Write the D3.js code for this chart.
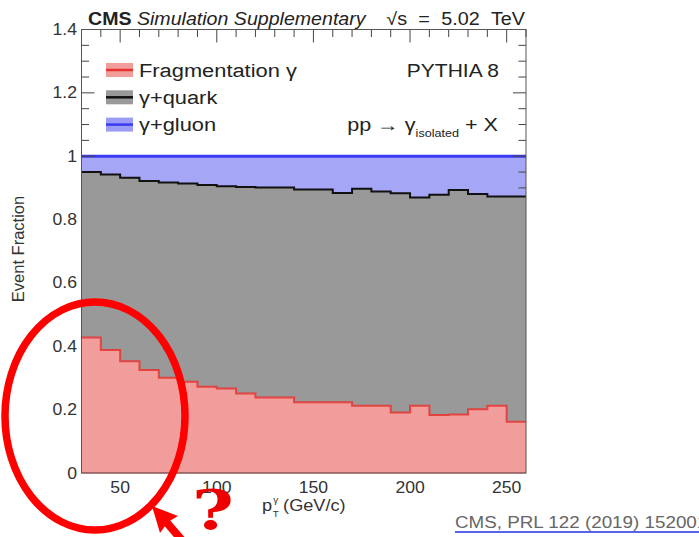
<!DOCTYPE html>
<html>
<head>
<meta charset="utf-8">
<script src="https://cdn.jsdelivr.net/npm/d3@7"></script>
<style>
  html, body { margin: 0; padding: 0; background: #fff; }
  svg { display: block; }
</style>
</head>
<body>
<svg id="chart" width="699" height="537"></svg>
<script>
// pT bin edges (GeV/c)
const binEdges = [30, 40, 50, 60, 70, 80, 90, 100, 110, 120, 130, 140, 150, 160, 170, 180, 190, 200, 210, 220, 230, 240, 250, 260];
// Event fractions per bin
const fragmentation = [0.428, 0.388, 0.353, 0.325, 0.301, 0.288, 0.272, 0.267, 0.251, 0.238, 0.238, 0.223, 0.223, 0.223, 0.212, 0.212, 0.191, 0.212, 0.183, 0.185, 0.201, 0.212, 0.162];
const quark = [0.522, 0.554, 0.579, 0.597, 0.616, 0.626, 0.637, 0.638, 0.652, 0.663, 0.663, 0.672, 0.672, 0.661, 0.685, 0.677, 0.692, 0.658, 0.695, 0.708, 0.680, 0.661, 0.711];
const gluon = [0.050, 0.058, 0.068, 0.078, 0.083, 0.086, 0.091, 0.095, 0.097, 0.099, 0.099, 0.105, 0.105, 0.116, 0.103, 0.111, 0.117, 0.130, 0.122, 0.107, 0.119, 0.127, 0.127];
const seriesKeys = ["frag", "quark", "gluon"];
const legendLabels = ["Fragmentation γ", "γ+quark", "γ+gluon"];
const xTickValues = [50, 100, 150, 200, 250];
const yTickValues = [0, 0.2, 0.4, 0.6, 0.8, 1, 1.2, 1.4];

const styles = {
  frag:  { fill: "#f19d9b", stroke: "#e6332f" },
  quark: { fill: "#999999", stroke: "#111111" },
  gluon: { fill: "#9c9cf6", stroke: "#3a3af2" }
};

const SANS = "'Liberation Sans', Arial, Helvetica, sans-serif";
const SERIF = "'DejaVu Serif', 'Liberation Serif', serif";
const SX = 1.1; // horizontal glyph stretch
const svg = d3.select("#chart");
const L = 81.5, R = 526, T = 29.5, B = 473;

const x = d3.scaleLinear().domain([30, 260]).range([L, R]);
const y = d3.scaleLinear().domain([0, 1.4]).range([B, T]);

function label(parent, px, py, str, size, opts = {}) {
  const t = parent.append("text")
    .attr("transform", `translate(${px},${py}) scale(${opts.sx || SX},1)`)
    .style("font-family", SANS)
    .attr("font-size", size)
    .attr("fill", opts.fill || "#222")
    .attr("text-anchor", opts.anchor || "start");
  if (opts.weight) t.attr("font-weight", opts.weight);
  if (opts.style) t.attr("font-style", opts.style);
  if (str !== null) t.text(str);
  return t;
}

// Ticks (drawn beneath the filled histograms)
const ticks = svg.append("g").attr("stroke", "#444").attr("stroke-width", 1);
d3.range(30, 261, 10).forEach(v => {
  const len = v % 50 === 0 ? 13 : 7.5;
  ticks.append("line").attr("x1", x(v)).attr("x2", x(v)).attr("y1", T).attr("y2", T + len);
});
d3.range(0, 1.401, 0.05).forEach(v => {
  const major = Math.abs(v / 0.2 - Math.round(v / 0.2)) < 1e-6;
  const len = major ? 13 : 7.5;
  if (y(v) < y(1) + 1) {
    ticks.append("line").attr("x1", L).attr("x2", L + len).attr("y1", y(v)).attr("y2", y(v));
  }
  ticks.append("line").attr("x1", R).attr("x2", R - len).attr("y1", y(v)).attr("y2", y(v));
});

// Stacked histogram
const rows = fragmentation.map((f, i) => ({ lo: binEdges[i], hi: binEdges[i + 1], frag: f, quark: quark[i], gluon: gluon[i] }));
const stacked = d3.stack().keys(seriesKeys)(rows);

function stepPoints(layer) {
  const pts = [];
  layer.forEach(d => {
    pts.push({ x: d.data.lo, y0: d[0], y1: d[1] });
    pts.push({ x: d.data.hi, y0: d[0], y1: d[1] });
  });
  return pts;
}
const area = d3.area().x(p => x(p.x)).y0(p => y(p.y0)).y1(p => y(p.y1));
const topLine = d3.line().x(p => x(p.x)).y(p => y(p.y1));

const hist = svg.append("g");
stacked.forEach(layer => {
  const key = layer.key;
  hist.append("path").attr("d", area(stepPoints(layer)))
    .attr("fill", styles[key].fill)
    .attr("fill-opacity", key === "gluon" ? 0.9 : 1);
});
stacked.forEach(layer => {
  const key = layer.key;
  hist.append("path").attr("d", topLine(stepPoints(layer))).attr("fill", "none")
    .attr("stroke", styles[key].stroke)
    .attr("stroke-width", key === "gluon" ? 3 : 2)
    .attr("stroke-opacity", key === "frag" ? 0.85 : 1);
});
// baseline of the fragmentation histogram
hist.append("line").attr("x1", x(30)).attr("x2", x(260)).attr("y1", y(0)).attr("y2", y(0))
  .attr("stroke", styles.frag.stroke).attr("stroke-opacity", 0.5).attr("stroke-width", 1.5);

// right-edge ticks inside the gluon band stay visible; others below 1 are hidden
ticks.raise();
ticks.selectAll("line").filter(function () {
  const yy = +this.getAttribute("y1");
  return yy > y(1) + 1 && yy > y(0.86);
}).remove();

// Frame
svg.append("rect").attr("x", L).attr("y", T).attr("width", R - L).attr("height", B - T)
  .attr("fill", "none").attr("stroke", "#555").attr("stroke-width", 1);

// Axis labels
xTickValues.forEach(v => label(svg, x(v), 493, String(v), 16, { anchor: "middle", fill: "#333" }));
yTickValues.forEach(v => label(svg, 77, y(v) + 5.5, String(v), 16, { anchor: "end", fill: "#333" }));

// Axis titles
const xt = label(svg, 262, 511, null, 16.5, { fill: "#333" });
xt.append("tspan").text("p");
xt.append("tspan").attr("font-size", 9).attr("dy", -8).attr("dx", 1).text("γ");
xt.append("tspan").attr("font-size", 9).attr("dx", -5).attr("dy", 14).text("T");
xt.append("tspan").attr("dy", -6).attr("dx", 4).text("(GeV/c)");

svg.append("text")
  .attr("transform", "translate(24,249) rotate(-90)")
  .style("font-family", SANS)
  .attr("text-anchor", "middle").attr("font-size", 16.5).attr("fill", "#333")
  .text("Event Fraction");

// Header
const hdr = label(svg, 88, 24.5, null, 17.5, { fill: "#222", sx: 1.12 });
hdr.append("tspan").attr("font-weight", "bold").text("CMS ");
hdr.append("tspan").attr("font-style", "italic").text("Simulation Supplementary");
const energy = label(svg, 525, 24.5, null, 17.5, { anchor: "end", fill: "#222", sx: 1.13 });
energy.append("tspan").text("√s");
energy.append("tspan").attr("dx", 10).text("=");
energy.append("tspan").attr("dx", 10).text("5.02");
energy.append("tspan").attr("dx", 10).text("TeV");

// Legend
const legend = svg.append("g");
seriesKeys.forEach((k, i) => {
  const cy = 70 + i * 27.3;
  legend.append("rect").attr("x", 106).attr("y", cy - 7).attr("width", 27).attr("height", 14).attr("fill", styles[k].fill);
  legend.append("line").attr("x1", 106).attr("x2", 133).attr("y1", cy).attr("y2", cy)
    .attr("stroke", styles[k].stroke).attr("stroke-width", 2.5);
  label(legend, 139, cy + 6.5, legendLabels[i], 19, { fill: "#222", sx: 1.15 });
});

label(svg, 499, 76.5, "PYTHIA 8", 17.5, { anchor: "end", fill: "#222", sx: 1.2 });
const proc = label(svg, 498, 130.5, null, 18, { anchor: "end", fill: "#222", sx: 1.2 });
proc.append("tspan").text("pp → γ");
proc.append("tspan").attr("font-size", 10.5).attr("dy", 6).text("isolated");
proc.append("tspan").attr("dy", -6).text(" + X");

// Highlight: circled low-pT region, arrow and question mark
const note = svg.append("g");
note.append("ellipse").attr("cx", 95).attr("cy", 416).attr("rx", 90).attr("ry", 114)
  .attr("fill", "none").attr("stroke", "#ff0000").attr("stroke-width", 7.5);
note.append("line").attr("x1", 192).attr("y1", 552).attr("x2", 162).attr("y2", 517)
  .attr("stroke", "#ff0000").attr("stroke-width", 8);
note.append("path").attr("d", "M152,506 L178,516 L168,522 L160,533 Z").attr("fill", "#ff0000");
note.append("text")
  .attr("transform", "translate(213,529) scale(1.3,1)")
  .attr("text-anchor", "middle")
  .style("font-family", SERIF).attr("font-weight", "bold")
  .attr("font-size", 55).attr("fill", "#ee0000").text("?");

// Citation
label(svg, 455, 528, "CMS, PRL 122 (2019) 152001", 16.5, { fill: "#666", sx: 1.14 });
svg.append("line").attr("x1", 455).attr("x2", 699).attr("y1", 532).attr("y2", 532)
  .attr("stroke", "#1f2fe6").attr("stroke-width", 1.5);
</script>
</body>
</html>
